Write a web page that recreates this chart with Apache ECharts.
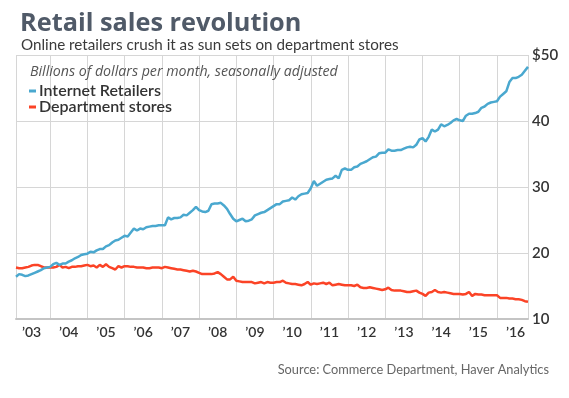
<!DOCTYPE html>
<html>
<head>
<meta charset="utf-8">
<script src="https://cdn.jsdelivr.net/npm/echarts@6/dist/echarts.min.js"></script>
<style>
  html, body { margin: 0; padding: 0; background: #fff; }
  #chart { width: 569px; height: 398px; }
</style>
</head>
<body>
<div id="chart"></div>
<script>
'use strict';

// monthly, Feb 2003 .. Nov 2016
const startYear = 2003;
const startMonth = 2;
const internetRetailers = [
  16.4, 16.8, 16.7, 16.5, 16.6, 16.8, 17.0, 17.2, 17.4, 17.7, 17.8,
  17.9, 18.3, 18.5, 18.2, 18.4, 18.4, 18.7, 18.9, 19.2, 19.4, 19.7, 19.8,
  19.9, 20.2, 20.1, 20.4, 20.6, 20.6, 21.0, 21.2, 21.6, 21.9, 22.0, 22.3,
  22.6, 22.5, 23.1, 23.7, 23.4, 23.7, 23.6, 23.9, 24.0, 24.1, 24.1, 24.2,
  24.2, 24.2, 25.4, 25.1, 25.3, 25.3, 25.4, 25.8, 25.7, 26.1, 26.5, 27.0,
  26.5, 26.3, 26.2, 26.4, 27.4, 27.5, 27.5, 27.6, 27.2, 26.7, 25.9, 25.2,
  24.8, 25.0, 25.2, 24.8, 24.9, 25.1, 25.7, 25.9, 26.1, 26.2, 26.5, 26.8,
  27.1, 27.4, 27.4, 27.8, 27.9, 28.0, 28.4, 28.1, 28.6, 28.9, 29.0, 29.1,
  29.8, 30.9, 30.2, 30.5, 30.8, 31.1, 31.2, 31.3, 31.7, 31.3, 32.6, 32.8,
  32.6, 32.6, 33.0, 33.1, 33.5, 33.7, 33.9, 34.2, 34.5, 34.6, 35.1, 35.2,
  35.2, 35.7, 35.5, 35.5, 35.6, 35.6, 35.8, 36.0, 36.1, 36.0, 36.4, 37.2,
  37.4, 36.9, 37.6, 38.7, 38.4, 38.7, 39.5, 39.2, 39.4, 39.7, 40.1, 40.3,
  40.1, 40.0, 40.8, 41.1, 41.1, 41.2, 41.4, 42.0, 42.2, 42.6, 42.8, 42.9,
  43.0, 43.7, 44.1, 44.5, 45.9, 46.5, 46.5, 46.7, 47.0, 47.6, 48.2
];
const departmentStores = [
  17.8, 17.7, 17.7, 17.8, 17.9, 18.1, 18.2, 18.2, 18.0, 17.8, 17.8,
  17.8, 17.8, 17.9, 18.2, 17.8, 17.9, 17.7, 17.9, 17.9, 18.0, 18.0, 18.1,
  18.2, 18.0, 18.1, 17.8, 18.2, 17.9, 18.3, 17.9, 17.7, 17.5, 18.0, 17.8,
  18.0, 18.0, 17.9, 17.9, 17.8, 17.8, 17.8, 17.7, 17.7, 17.8, 17.8, 17.8,
  17.7, 17.9, 17.8, 17.7, 17.6, 17.5, 17.5, 17.4, 17.3, 17.2, 17.3, 17.2,
  17.0, 16.8, 16.8, 16.8, 16.8, 16.9, 17.1, 16.8, 16.4, 16.0, 16.0, 16.4,
  15.8, 15.7, 15.6, 15.6, 15.6, 15.6, 15.4, 15.5, 15.6, 15.4, 15.6, 15.5,
  15.5, 15.6, 15.6, 15.8, 15.5, 15.4, 15.3, 15.3, 15.2, 15.1, 15.3, 15.6,
  15.2, 15.4, 15.3, 15.4, 15.5, 15.3, 15.5, 15.1, 15.2, 15.3, 15.2, 15.1,
  15.1, 15.1, 15.0, 15.2, 14.8, 14.7, 14.7, 14.8, 14.7, 14.6, 14.5, 14.4,
  14.5, 14.75, 14.4, 14.3, 14.3, 14.3, 14.2, 14.1, 14.1, 14.2, 14.3, 14.0,
  13.8, 13.5, 14.0, 14.1, 14.4, 14.1, 14.0, 14.1, 14.0, 13.9, 13.8, 13.8,
  13.8, 13.7, 13.8, 14.1, 13.5, 13.8, 13.7, 13.7, 13.6, 13.6, 13.6, 13.6,
  13.6, 13.2, 13.2, 13.2, 13.1, 13.1, 13.0, 13.0, 12.9, 12.7, 12.6
];
const yTicks = [10, 20, 30, 40, 50];

const months = [];
for (let i = 0; i < internetRetailers.length; i++) {
  const m = startMonth - 1 + i;
  const y = startYear + Math.floor(m / 12);
  const mm = (m % 12) + 1;
  months.push(y + '-' + (mm < 10 ? '0' + mm : mm));
}

const font = 'Lato';
const chart = echarts.init(document.getElementById('chart'));

chart.setOption({
  animation: false,
  backgroundColor: '#fff',
  title: [
    {
      text: 'Retail sales revolution',
      left: 15, top: 6,
      textStyle: { fontFamily: 'Open Sans', fontSize: 25.3, fontWeight: 'bold', color: '#505a68' }
    },
    {
      text: 'Online retailers crush it as sun sets on department stores',
      left: 16, top: 33,
      textStyle: { fontFamily: font, fontSize: 15.2, fontWeight: 'normal', color: '#3a3a3a' }
    },
    {
      text: 'Billions of dollars per month, seasonally adjusted',
      left: 25, top: 60,
      textStyle: { fontFamily: 'Open Sans', fontSize: 14.2, fontStyle: 'italic', fontWeight: 'normal', color: '#555' }
    },
    {
      text: 'Source: Commerce Department, Haver Analytics',
      right: 15, top: 358,
      textStyle: { fontFamily: font, fontSize: 12.8, fontWeight: 'normal', color: '#666' }
    }
  ],
  legend: {
    orient: 'vertical',
    left: 24, top: 78,
    itemWidth: 7, itemHeight: 3, itemGap: 0,
    icon: 'rect',
    textStyle: { fontFamily: font, fontSize: 16, fontWeight: 600, color: '#333', padding: [0, 0, 0, -2] },
    data: ['Internet Retailers', 'Department stores']
  },
  grid: { left: 16, right: 41, top: 55, bottom: 79 },
  xAxis: {
    type: 'category',
    data: months,
    boundaryGap: false,
    axisLine: { lineStyle: { color: '#c4c4c4', width: 2 } },
    axisTick: { show: false },
    axisLabel: {
      interval: (i, v) => v.slice(5) === '07',
      formatter: v => '\u2019' + v.slice(2, 4),
      fontFamily: font, fontSize: 14, fontWeight: 600, color: '#333', margin: 6
    },
    splitLine: {
      show: true,
      interval: (i, v) => v.slice(5) === '01' || i === 0 || i === months.length - 1,
      lineStyle: { color: '#d6d6d6', width: 1 }
    }
  },
  yAxis: {
    type: 'value',
    position: 'right',
    min: yTicks[0], max: yTicks[yTicks.length - 1], interval: 10,
    axisLine: { show: false },
    axisTick: { show: false },
    axisLabel: {
      formatter: v => (v === 50 ? '$' + v : '' + v),
      fontFamily: font, fontSize: 15, fontWeight: 600, color: '#333', margin: 4
    },
    splitLine: { lineStyle: { color: '#d6d6d6', width: 1 } }
  },
  series: [
    {
      name: 'Internet Retailers', type: 'line', data: internetRetailers,
      showSymbol: false, color: '#4aa8cf', lineStyle: { width: 2.5 }, z: 3
    },
    {
      name: 'Department stores', type: 'line', data: departmentStores,
      showSymbol: false, color: '#fb4326', lineStyle: { width: 2.5 }, z: 2
    }
  ]
});
</script>
</body>
</html>
